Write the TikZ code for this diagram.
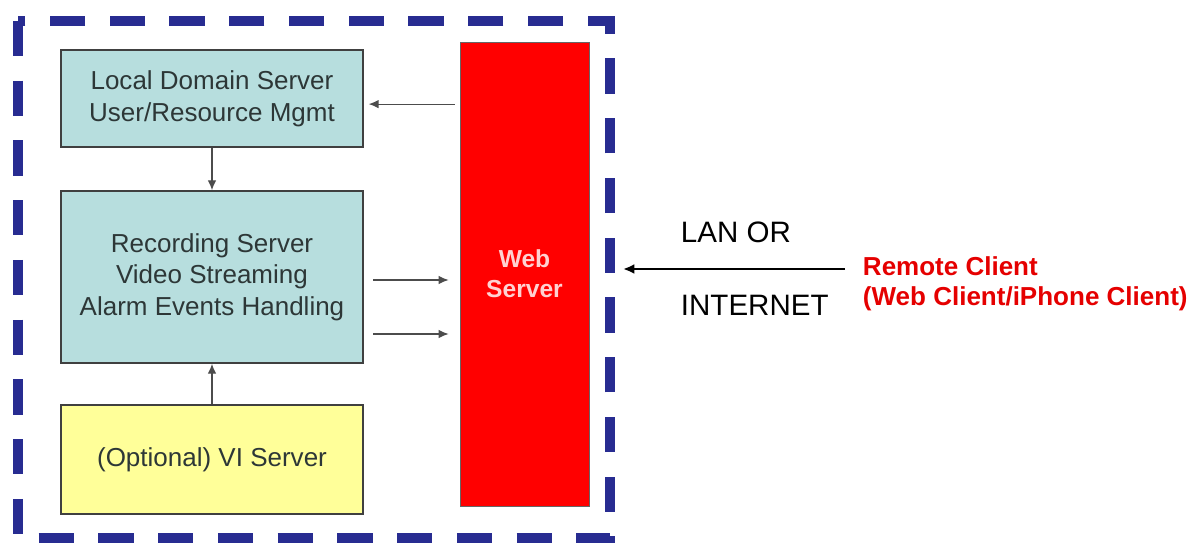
\documentclass[tikz,border=0pt]{standalone}
\usepackage{fontspec}
\setmainfont{Liberation Sans}
\usetikzlibrary{arrows.meta}

\definecolor{framblue}{RGB}{40,44,145}
\definecolor{boxcyan}{RGB}{183,222,222}
\definecolor{boxyellow}{RGB}{255,255,153}
\definecolor{txtgrey}{RGB}{45,55,55}

\begin{document}
\begin{tikzpicture}[
  sbox/.style   = {draw=black!75, line width=1.1pt, minimum width=7.55cm,
                   align=center, text=txtgrey,
                   font=\fontsize{18.5}{22.5}\selectfont},
  webbox/.style = {draw=black!60, line width=0.6pt, fill=red,
                   minimum width=3.225cm, minimum height=11.6cm,
                   align=center, text=red!18!white,
                   font=\bfseries\fontsize{17.5}{21.5}\selectfont},
  thinarr/.style= {-{Latex[length=7pt,width=6pt]}, line width=0.8pt, black!70},
  bigarr/.style = {-{Latex[length=8pt,width=7pt]}, line width=1.8pt, black},
  netlbl/.style = {anchor=west, font=\fontsize{21}{25}\selectfont},
  clbl/.style   = {anchor=west, align=left, text=red!90!black,
                   font=\bfseries\fontsize{18.5}{21.5}\selectfont},
]
\useasboundingbox (0,0) rectangle (29.95,13.85);

% Site boundary
\draw[framblue, line width=7pt, dash pattern=on 25pt off 17.5pt]
  (0.45,13.325) rectangle (15.25,0.4);

\node[sbox, fill=boxcyan, minimum height=2.425cm] (lds) at (5.3,11.3875)
  {Local Domain Server\\User/Resource Mgmt};
\node[sbox, fill=boxcyan, minimum height=4.3cm] (rec) at (5.3,6.925)
  {Recording Server\\Video Streaming\\Alarm Events Handling};
\node[sbox, fill=boxyellow, minimum height=2.725cm] (vis) at (5.3,2.3625)
  {(Optional) VI Server};
\node[webbox] (web) at (13.1125,7.0) {Web\\Server};

% Internal links
\draw[thinarr, shorten <=3.5pt, shorten >=3.5pt]
  ([yshift=-0.14cm]web.west|-lds) -- ([yshift=-0.14cm]lds.east);
\draw[thinarr] (lds.south) -- (rec.north);
\draw[thinarr] (vis.north) -- (rec.south);

\coordinate (o1) at (9.325,6.85);
\coordinate (o2) at (9.325,5.5);
\draw[thinarr] (o1) -- ([xshift=-0.275cm]web.west|-o1);
\draw[thinarr] (o2) -- ([xshift=-0.275cm]web.west|-o2);

% Remote access
\coordinate (rc) at (21.125,7.125);
\coordinate (lanend) at (15.575,7.125);
\draw[bigarr] (rc) -- (lanend);

\node[netlbl] (lan) at (16.9,8.05) {LAN OR};
\node[netlbl] (inet) at (16.9,6.22) {INTERNET};
\node[clbl] (client) at (21.45,6.75)
  {Remote Client\\(Web Client/iPhone Client)};

\end{tikzpicture}
\end{document}
